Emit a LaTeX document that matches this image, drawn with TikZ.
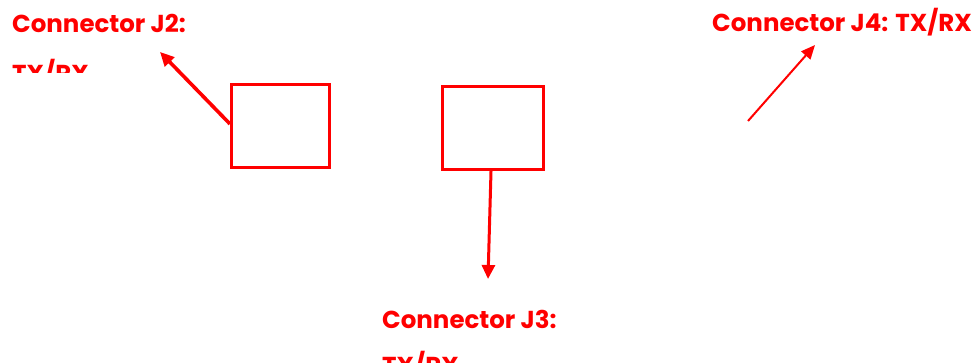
\documentclass[tikz,border=0pt]{standalone}
\usepackage{fontspec}
\setmainfont{Poppins}
\usetikzlibrary{arrows.meta}
\definecolor{labred}{RGB}{255,0,0}
\begin{document}
\begin{tikzpicture}[x=1pt,y=-1pt,
  lbl/.style={text=labred,font=\fontsize{24.5}{30}\selectfont\bfseries,inner sep=0pt,anchor=base west},
  conbox/.style={draw=labred,line width=3pt,inner sep=0pt,fill=white},
  ptr/.style={draw=labred,line width=3pt,-{Triangle[length=14pt,width=13pt]}},
  thinptr/.style={draw=labred,line width=2pt,-{Triangle[length=14pt,width=12pt]}}]
\useasboundingbox (0,0) rectangle (976,363);
% connector outlines
\node[conbox,minimum width=98pt,minimum height=83pt] (boxA) at (280.5,126) {};
\node[conbox,minimum width=101pt,minimum height=83pt] (boxB) at (493,128) {};
% labels
\node[lbl] (j2label) at (12,33) {Connector J2:};
\begin{scope}
  \clip (0,0) rectangle (250,73);
  \node[lbl] (j2sub) at (12,83) {TX/RX};
\end{scope}
\node[lbl] (j3label) at (382,328) {Connector J3:};
\node[lbl] (j3sub) at (382,374) {TX/RX};
\node[lbl] (j4label) at (712,32) {Connector J4: TX/RX};
% pointer ends
\coordinate (j2tip) at (160,52);
\coordinate (j3tip) at (488,279);
\coordinate (j4start) at (748,121);
\coordinate (j4tip) at (815,45);
% pointers
\draw[ptr,line width=3.6pt] (boxA.west |- 0,124) -- (j2tip);
\draw[ptr] ([xshift=-2pt]boxB.south) -- (j3tip);
\draw[thinptr] (j4start) -- (j4tip);
\end{tikzpicture}
\end{document}
